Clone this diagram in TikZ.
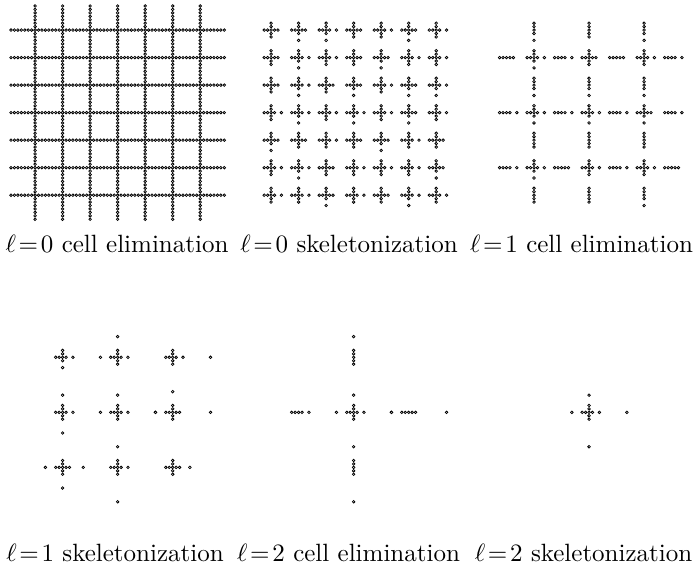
\documentclass[tikz,border=0pt]{standalone}
\newcommand\dotp[4]{\draw[dotst] ({#1+3.44*(#3)},{#2+3.44*(#4)}) circle[radius=0.52pt];}
\newcommand\fdot[5]{%
  \pgfmathtruncatemacro\kp{(mod(#3,#5)==#5-1)||(mod(#4,#5)==#5-1)}%
  \ifnum\kp=1 \dotp{#1}{#2}{#3}{#4}\fi}
\newcommand\armdraw[8]{%
  \foreach \k in {1,...,12}{%
    \pgfmathtruncatemacro\bt{mod(floor(#7/2^(\k-1)),2)}%
    \ifnum\bt=1 \fdot{#1}{#2}{#3+(#5)*\k}{#4+(#6)*\k}{#8}\fi}}
\newcommand\drawset[4]{%
  \foreach \a/\b/\ml/\mr/\mu/\md in #3 {%
    \fdot{#1}{#2}{\a}{\b}{#4}%
    \armdraw{#1}{#2}{\a}{\b}{-1}{0}{\ml}{#4}%
    \armdraw{#1}{#2}{\a}{\b}{1}{0}{\mr}{#4}%
    \armdraw{#1}{#2}{\a}{\b}{0}{-1}{\mu}{#4}%
    \armdraw{#1}{#2}{\a}{\b}{0}{1}{\md}{#4}}}
% level-0 skeleton: a/b/left/right/up/down (bit k-1 = offset k)
\def\SZero{%
7/7/3/3/3/3,15/7/3/3/3/5,23/7/3/5/3/5,31/7/3/3/3/3,39/7/3/5/3/3,47/7/3/3/3/5,55/7/3/5/3/3,%
7/15/3/3/3/3,15/15/3/5/3/5,23/15/3/5/3/3,31/15/3/3/3/3,39/15/3/3/3/5,47/15/3/5/3/3,55/15/3/5/3/3,%
7/23/3/3/3/3,15/23/3/5/3/5,23/23/3/3/3/3,31/23/3/3/3/5,39/23/3/5/3/3,47/23/3/3/3/5,55/23/3/5/3/5,%
7/31/3/5/3/3,15/31/3/5/3/5,23/31/3/5/3/3,31/31/3/5/3/5,39/31/3/5/3/3,47/31/3/3/3/5,55/31/3/5/3/3,%
7/39/3/3/3/5,15/39/3/3/3/3,23/39/3/5/3/3,31/39/3/3/3/3,39/39/3/3/3/5,47/39/3/5/3/3,55/39/3/3/3/3,%
7/47/3/5/3/3,15/47/3/5/3/5,23/47/3/3/3/3,31/47/3/5/3/3,39/47/3/5/3/3,47/47/3/5/3/3,55/47/3/3/3/5,%
7/55/3/5/3/3,15/55/3/5/3/3,23/55/3/3/3/5,31/55/3/5/3/3,39/55/3/3/3/3,47/55/3/5/3/5,55/55/3/5/3/3}
% level-1 skeleton
\def\SOne{%
15/15/3/5/3/5,31/15/19/5/35/3,47/15/3/1029/3/3,%
15/31/3/5/19/35,31/31/19/1029/19/515,47/31/19/1027/35/3,%
15/47/19/35/3/35,31/47/3/5/3/515,47/47/3/19/3/3}
% level-2 skeleton
\def\STwo{31/31/19/1029/19/515}
\begin{document}
\begin{tikzpicture}[x=0.4pt,y=-0.4pt]
\tikzset{dotst/.style={draw=black,fill=white,line width=0.3pt},
         lab/.style={inner sep=0pt,font=\normalsize}}
\useasboundingbox (0,0) rectangle (699,571);
% panel 1: level-0 cell elimination
\foreach \L in {7,15,23,31,39,47,55}{%
  \foreach \i in {0,...,62}{\dotp{11}{6}{\i}{\L}\dotp{11}{6}{\L}{\i}}}
% panel 2 and 3
\drawset{247}{6}{\SZero}{8}
\drawset{482.4}{6}{\SZero}{16}
% panel 4 and 5
\drawset{11}{305.7}{\SOne}{16}
\drawset{247}{305.7}{\SOne}{32}
% panel 6
\drawset{482.4}{305.7}{\STwo}{32}
% labels
\node[lab] (lab1) at (117,244) {$\ell\!=\!0$ cell elimination};
\node[lab] (lab2) at (349,244) {$\ell\!=\!0$ skeletonization};
\node[lab] (lab3) at (581.5,244) {$\ell\!=\!1$ cell elimination};
\node[lab] (lab4) at (115,553) {$\ell\!=\!1$ skeletonization};
\node[lab] (lab5) at (348.5,553) {$\ell\!=\!2$ cell elimination};
\node[lab] (lab6) at (583.5,553) {$\ell\!=\!2$ skeletonization};
\end{tikzpicture}
\end{document}
